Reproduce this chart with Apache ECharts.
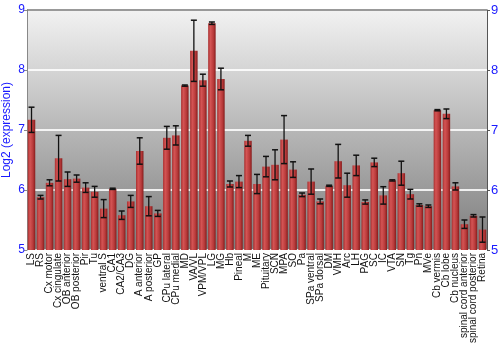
<!DOCTYPE html>
<html><head><meta charset="utf-8">
<script src="https://cdn.jsdelivr.net/npm/echarts@6/dist/echarts.min.js"></script>
<style>html,body{margin:0;padding:0;background:#fff}#c{width:500px;height:350px}</style>
</head><body><div id="c"></div>
<script>
var categories = ["LS","RS","Cx motor","Cx cingulate","OB anterior","OB posterior","Pir","Tu","ventral S","CA1","CA2/CA3","DG","A anterior","A posterior","GP","CPu lateral","CPu medial","MD","VA/VL","VPM/VPL","LG","MG","Hb","Pineal","M","ME","Pituitary","SCN","MPA","SO","Pa","SPa ventral","SPa dorsal","DM","VMH","Arc","LH","PAG","SC","IC","VTA","SN","Tg","Pn","MVe","Cb vermis","Cb lobe","Cb nucleus","spinal cord anterior","spinal cord posterior","Retina"];
var values = [7.17,5.88,6.12,6.53,6.18,6.19,6.04,5.97,5.69,6.02,5.58,5.81,6.65,5.73,5.61,6.87,6.91,7.74,8.32,7.83,8.78,7.85,6.10,6.14,6.82,6.10,6.39,6.42,6.84,6.34,5.92,6.14,5.81,6.07,6.48,6.08,6.41,5.80,6.46,5.91,6.16,6.28,5.93,5.75,5.73,7.33,7.27,6.06,5.43,5.57,5.34];
var errors = [0.21,0.03,0.05,0.38,0.12,0.06,0.08,0.09,0.15,0.01,0.07,0.10,0.22,0.16,0.05,0.19,0.16,0.01,0.51,0.10,0.02,0.18,0.05,0.10,0.09,0.16,0.17,0.25,0.40,0.13,0.03,0.21,0.04,0.01,0.28,0.20,0.17,0.035,0.07,0.145,0.01,0.20,0.08,0.02,0.02,0.01,0.08,0.06,0.07,0.02,0.21];
var yTicks = [5,6,7,8,9];

var chart = echarts.init(document.getElementById('c'));
var blue = '#1a1aff';
var errData = values.map(function(v,i){return [i, v-errors[i], v+errors[i]];});
chart.setOption({
  animation:false,
  grid:{left:27,right:13,top:10,bottom:100,show:true,borderWidth:0,containLabel:false,outerBoundsMode:'none',
    backgroundColor:new echarts.graphic.LinearGradient(0,0,0,1,[{offset:0,color:'#f2f2f2'},{offset:1,color:'#7c7c7c'}])},
  xAxis:{type:'category',data:categories,
    axisLine:{show:false},axisTick:{show:false},
    axisLabel:{rotate:90,interval:0,fontSize:10,color:'#111',fontFamily:'Liberation Sans, Arial',margin:3}},
  yAxis:[{type:'value',min:yTicks[0],max:yTicks[yTicks.length-1],interval:1,
    name:'Log2 (expression)',nameLocation:'middle',nameGap:14,nameRotate:90,nameMoveOverlap:false,
    nameTextStyle:{color:blue,fontSize:12,fontFamily:'Liberation Sans, Arial'},
    axisLine:{show:true,lineStyle:{color:'#888'}},axisTick:{show:true,length:3,lineStyle:{color:'#888'}},
    axisLabel:{color:blue,fontSize:12,fontFamily:'Liberation Sans, Arial',margin:2},
    splitLine:{show:true,lineStyle:{color:'#ffffff',width:2,opacity:0.85}}},
   {type:'value',min:yTicks[0],max:yTicks[yTicks.length-1],interval:1,position:'right',
    axisLine:{show:true,lineStyle:{color:'#555'}},axisTick:{show:true,length:3,lineStyle:{color:'#555'}},
    axisLabel:{color:blue,fontSize:13,fontFamily:'Liberation Sans, Arial',margin:4},
    splitLine:{show:false}}],
  graphic:[{type:'line',shape:{x1:27,y1:10,x2:487,y2:10},style:{stroke:'#777',lineWidth:1.5},z:100}],
  series:[{type:'bar',data:values,barCategoryGap:'17%',
    itemStyle:{color:new echarts.graphic.LinearGradient(0,0,1,0,[{offset:0,color:'#a83030'},{offset:0.3,color:'#d45454'},{offset:0.7,color:'#b83a3a'},{offset:1,color:'#861c1c'}])}},
   {type:'custom',data:errData,z:10,
    renderItem:function(params,api){
      var x=api.value(0);
      var lo=api.coord([x,api.value(1)]);
      var hi=api.coord([x,api.value(2)]);
      var w=3;
      return {type:'group',children:[
        {type:'line',shape:{x1:lo[0],y1:lo[1],x2:hi[0],y2:hi[1]},style:{stroke:'#111',lineWidth:1.3}},
        {type:'line',shape:{x1:lo[0]-w,y1:lo[1],x2:lo[0]+w,y2:lo[1]},style:{stroke:'#111',lineWidth:1.5}},
        {type:'line',shape:{x1:hi[0]-w,y1:hi[1],x2:hi[0]+w,y2:hi[1]},style:{stroke:'#111',lineWidth:1.5}}
      ]};
    }}]
});
</script></body></html>
